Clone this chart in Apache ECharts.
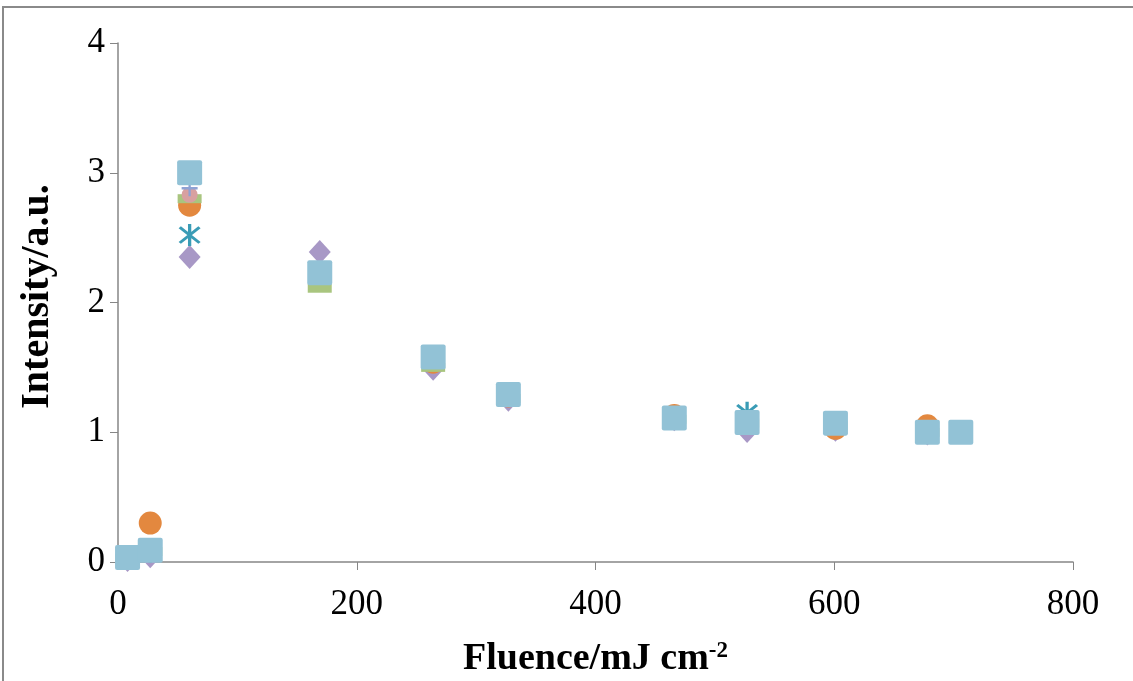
<!DOCTYPE html>
<html>
<head>
<meta charset="utf-8">
<script src="https://cdn.jsdelivr.net/npm/echarts@6/dist/echarts.min.js"></script>
<style>
html,body{margin:0;padding:0;background:#fff;}
#chart{width:1133px;height:681px;}
</style>
</head>
<body>
<div id="chart"></div>
<script>
// Data
var fluence = [8, 27, 60, 169, 264, 327, 466, 527, 601, 678, 706];
var diamondVals  = [0.015, 0.045, 2.35, 2.39, 1.49, 1.25, 1.10, 1.01, 1.02, 0.99, null];
var asteriskVals = [0.04, 0.08, 2.52, 2.22, 1.55, 1.28, 1.12, 1.15, 1.07, 1.00, null];
var circleVals   = [0.03, 0.30, 2.75, 2.19, 1.54, 1.28, 1.13, 1.07, 1.03, 1.05, null];
var dashVals     = [0.03, 0.08, 2.80, 2.11, 1.50, 1.26, 1.10, 1.07, 1.05, 1.00, null];
var dotVals      = [0.03, 0.08, 2.83, 2.22, 1.57, 1.29, 1.10, 1.07, 1.06, 1.00, null];
var plusVals     = [0.03, 0.08, 2.88, 2.23, 1.58, 1.30, 1.10, 1.08, 1.06, 1.00, null];
var squareVals   = [0.035, 0.09, 3.00, 2.23, 1.58, 1.29, 1.11, 1.075, 1.07, 1.00, 1.00];
var xTicks = [0, 200, 400, 600, 800];
var yTicks = [0, 1, 2, 3, 4];

function pts(vals){
  var out = [];
  for (var i = 0; i < fluence.length; i++) {
    if (vals[i] !== null) out.push([fluence[i], vals[i]]);
  }
  return out;
}

var asteriskPath = 'path://M-1.3,-11 L1.3,-11 L1.3,11 L-1.3,11 Z M-8.7,-6.9 L-6.9,-8.7 L8.7,6.9 L6.9,8.7 Z M6.9,-8.7 L8.7,-6.9 L-6.9,8.7 L-8.7,6.9 Z';
var plusPath = 'path://M-7,-1.3 L7,-1.3 L7,1.3 L-7,1.3 Z M-1,-8 L1,-8 L1,8 L-1,8 Z';
var squarePath = 'path://M-10,-12 L10,-12 Q12,-12 12,-10 L12,10 Q12,12 10,12 L-10,12 Q-12,12 -12,10 L-12,-10 Q-12,-12 -10,-12 Z';

var serif = '"Liberation Serif", "Times New Roman", serif';
var axisColor = '#868686';

var chart = echarts.init(document.getElementById('chart'));
chart.setOption({
  animation: false,
  backgroundColor: '#fff',
  graphic: [{
    type: 'rect',
    shape: {x: 3, y: 7, width: 1150, height: 700},
    style: {fill: 'none', stroke: '#8a8a8a', lineWidth: 2},
    silent: true, z: -10
  }],
  grid: {left: 118, right: 60, top: 43, bottom: 119, outerBoundsMode: 'none', containLabel: false},
  xAxis: {
    type: 'value', min: xTicks[0], max: xTicks[xTicks.length-1], interval: 200,
    name: 'Fluence/mJ cm{sup|-2}',
    nameLocation: 'middle', nameGap: 78,
    nameTextStyle: {
      fontFamily: serif, fontSize: 38, fontWeight: 'bold', color: '#000',
      rich: {sup: {fontFamily: serif, fontSize: 23, fontWeight: 'bold', color: '#000', verticalAlign: 'top', padding: [0,0,15,0]}}
    },
    axisLine: {lineStyle: {color: axisColor, width: 1.5}},
    axisTick: {show: true, inside: false, length: 8, lineStyle: {color: axisColor}},
    axisLabel: {fontFamily: serif, fontSize: 35, color: '#000', margin: 25},
    splitLine: {show: false}
  },
  yAxis: {
    type: 'value', min: yTicks[0], max: yTicks[yTicks.length-1], interval: 1,
    name: 'Intensity/a.u.',
    nameLocation: 'middle', nameGap: 60, nameRotate: 90,
    nameTextStyle: {fontFamily: serif, fontSize: 40, fontWeight: 'bold', color: '#000', padding: [0, 0, 0, 12]},
    axisLine: {show: true, lineStyle: {color: axisColor, width: 1.5}},
    axisTick: {show: true, inside: false, length: 8, lineStyle: {color: axisColor}},
    axisLabel: {fontFamily: serif, fontSize: 35, color: '#000', margin: 13},
    splitLine: {show: false}
  },
  series: [
    {type: 'scatter', data: pts(diamondVals), symbol: 'diamond', symbolSize: [22, 24], itemStyle: {color: '#a898c6', opacity: 1}},
    {type: 'scatter', data: pts(asteriskVals), symbol: asteriskPath, symbolSize: 22, itemStyle: {color: '#3a9cb6', opacity: 1}},
    {type: 'scatter', data: pts(circleVals), symbol: 'circle', symbolSize: 23, itemStyle: {color: '#e3883f', opacity: 1}},
    {type: 'scatter', data: pts(dashVals), symbol: 'rect', symbolSize: [24, 9], itemStyle: {color: '#a9c57f', opacity: 1}},
    {type: 'scatter', data: pts(dotVals), symbol: 'circle', symbolSize: 16, itemStyle: {color: '#d8a0a0', opacity: 1}},
    {type: 'scatter', data: pts(plusVals), symbol: plusPath, symbolSize: 16, itemStyle: {color: '#8ea2d4', opacity: 1}},
    {type: 'scatter', data: pts(squareVals), symbol: squarePath, symbolSize: 25, itemStyle: {color: '#92c2d6', opacity: 1}}
  ]
});
</script>
</body>
</html>
